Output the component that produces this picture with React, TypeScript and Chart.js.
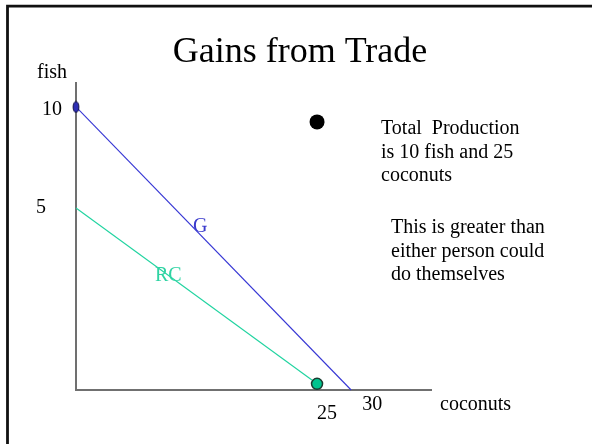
import React, { useEffect, useRef } from 'react';
import { Chart, registerables, LinearScale } from 'chart.js';

// ---------- data ----------
const chartTitle = 'Gains from Trade';
const xAxisLabel = 'coconuts';
const yAxisLabel = 'fish';
const xTickValues = [25, 30];
const yTickValues = [5, 10];
const gLine = [
  { x: 0, y: 10 },
  { x: 30, y: 0 },
];
const rcLine = [
  { x: 0, y: 5 },
  { x: 25, y: 0.17 },
];
const totalProduction = [{ x: 25, y: 9.26 }];
const gLabel = 'G';
const rcLabel = 'RC';
const note1 = ['Total  Production', 'is 10 fish and 25', 'coconuts'];
const note2 = ['This is greater than', 'either person could', 'do themselves'];

// ---------- piecewise (hand-drawn, non-uniform) axis mapping ----------
const AXIS_STOPS: Record<string, number[][]> = {
  x: [
    [0, 0],
    [25, 0.679],
    [30, 0.775],
  ],
  y: [
    [0, 0],
    [5, 0.593],
    [10, 0.922],
  ],
};

function valueToFraction(stops: number[][], v: number) {
  let i = 0;
  while (i < stops.length - 2 && v > stops[i + 1][0]) i++;
  const [v0, f0] = stops[i];
  const [v1, f1] = stops[i + 1];
  return f0 + ((v - v0) / (v1 - v0)) * (f1 - f0);
}
function fractionToValue(stops: number[][], f: number) {
  let i = 0;
  while (i < stops.length - 2 && f > stops[i + 1][1]) i++;
  const [v0, f0] = stops[i];
  const [v1, f1] = stops[i + 1];
  return v0 + ((f - f0) / (f1 - f0)) * (v1 - v0);
}

class PiecewiseScale extends LinearScale {
  static id = 'piecewise';
  getPixelForValue(value: number) {
    if (value === null || value === undefined || isNaN(value)) return NaN;
    const stops = AXIS_STOPS[(this as any).id];
    return this.getPixelForDecimal(valueToFraction(stops, value));
  }
  getValueForPixel(pixel: number) {
    const stops = AXIS_STOPS[(this as any).id];
    return fractionToValue(stops, this.getDecimalForPixel(pixel));
  }
}

Chart.register(...registerables, PiecewiseScale);

const SERIF = '"Liberation Serif", "Times New Roman", Times, serif';

function makeEllipse() {
  const c = document.createElement('canvas');
  c.width = 8;
  c.height = 13;
  const g = c.getContext('2d')!;
  g.beginPath();
  g.ellipse(4, 6.5, 2.9, 5.4, 0, 0, Math.PI * 2);
  g.fillStyle = '#2e2eb4';
  g.fill();
  g.lineWidth = 1;
  g.strokeStyle = '#0c0c40';
  g.stroke();
  return c;
}

const overlayPlugin = {
  id: 'overlay',
  beforeDraw(chart: any) {
    const ctx = chart.ctx;
    ctx.save();
    ctx.fillStyle = '#ffffff';
    ctx.fillRect(0, 0, chart.width, chart.height);
    ctx.strokeStyle = '#111111';
    ctx.lineWidth = 2.8;
    ctx.lineJoin = 'miter';
    ctx.beginPath();
    ctx.moveTo(7.5, chart.height + 4);
    ctx.lineTo(7.5, 6.2);
    ctx.lineTo(chart.width + 4, 6.2);
    ctx.stroke();
    ctx.restore();
  },
  afterDraw(chart: any) {
    const ctx = chart.ctx;
    const xs = chart.scales.x;
    const ys = chart.scales.y;
    ctx.save();
    ctx.textBaseline = 'alphabetic';

    // title
    ctx.font = `36px ${SERIF}`;
    ctx.fillStyle = '#000';
    ctx.textAlign = 'center';
    ctx.fillText(chartTitle, 300, 62);

    ctx.font = `20px ${SERIF}`;
    ctx.textAlign = 'left';
    // axis names
    ctx.fillText(yAxisLabel, 37, 78);
    ctx.fillText(xAxisLabel, 440, 410);

    // y tick labels (hand-placed left of axis)
    const yTickLeft = [36, 42];
    const yTickDy = [5, 8];
    yTickValues.forEach((v, i) => {
      ctx.fillText(String(v), yTickLeft[i], ys.getPixelForValue(v) + yTickDy[i]);
    });
    // x tick labels
    const xTickDx = [0, 11];
    const xTickBase = [419, 410];
    xTickValues.forEach((v, i) => {
      ctx.fillText(String(v), xs.getPixelForValue(v) + xTickDx[i], xTickBase[i]);
    });

    // notes
    note1.forEach((t, i) => ctx.fillText(t, 381, 134 + i * 23.5));
    note2.forEach((t, i) => ctx.fillText(t, 391, 233 + i * 23.5));

    // line labels
    ctx.fillStyle = '#3a3acc';
    ctx.fillText(gLabel, 193, 232);
    ctx.fillStyle = '#2fd3a3';
    ctx.fillText(rcLabel, 155, 281);
    ctx.restore();
  },
};

export default function App() {
  const ref = useRef<HTMLCanvasElement | null>(null);
  useEffect(() => {
    if (!ref.current) return;
    const ellipse = makeEllipse();
    const chart = new Chart(ref.current, {
      type: 'scatter',
      data: {
        datasets: [
          {
            label: 'G',
            data: gLine,
            showLine: true,
            borderColor: '#3636d4',
            borderWidth: 1.1,
            pointStyle: [ellipse, 'circle'] as any,
            pointRadius: [5, 0],
            clip: false,
          } as any,
          {
            label: 'RC',
            data: rcLine,
            showLine: true,
            borderColor: '#20d4a0',
            borderWidth: 1.1,
            pointRadius: [0, 5.5],
            pointBackgroundColor: '#00c48e',
            pointBorderColor: '#1b3b30',
            pointBorderWidth: 1.5,
            clip: false,
          } as any,
          {
            label: 'Total',
            data: totalProduction,
            showLine: false,
            pointRadius: 7.5,
            pointBackgroundColor: '#000',
            pointBorderColor: '#000',
            pointBorderWidth: 0,
            clip: false,
          } as any,
        ],
      },
      options: {
        animation: false,
        responsive: false,
        devicePixelRatio: 1,
        events: [],
        layout: { padding: { left: 76, top: 83, right: 161, bottom: 54 } },
        plugins: {
          legend: { display: false },
          title: { display: false },
          tooltip: { enabled: false },
        },
        scales: {
          x: {
            type: 'piecewise' as any,
            min: 0,
            max: 42,
            ticks: { display: false },
            grid: { display: false, drawTicks: false },
            border: { display: true, color: '#707070', width: 2 },
          },
          y: {
            type: 'piecewise' as any,
            min: 0,
            max: 12,
            ticks: { display: false },
            grid: { display: false, drawTicks: false },
            border: { display: true, color: '#707070', width: 2 },
          },
        },
      },
      plugins: [overlayPlugin],
    });
    return () => chart.destroy();
  }, []);

  return (
    <div style={{ position: 'fixed', left: 0, top: 0, width: 592, height: 444 }}>
      <canvas ref={ref} width={592} height={444} style={{ display: 'block' }} />
    </div>
  );
}
